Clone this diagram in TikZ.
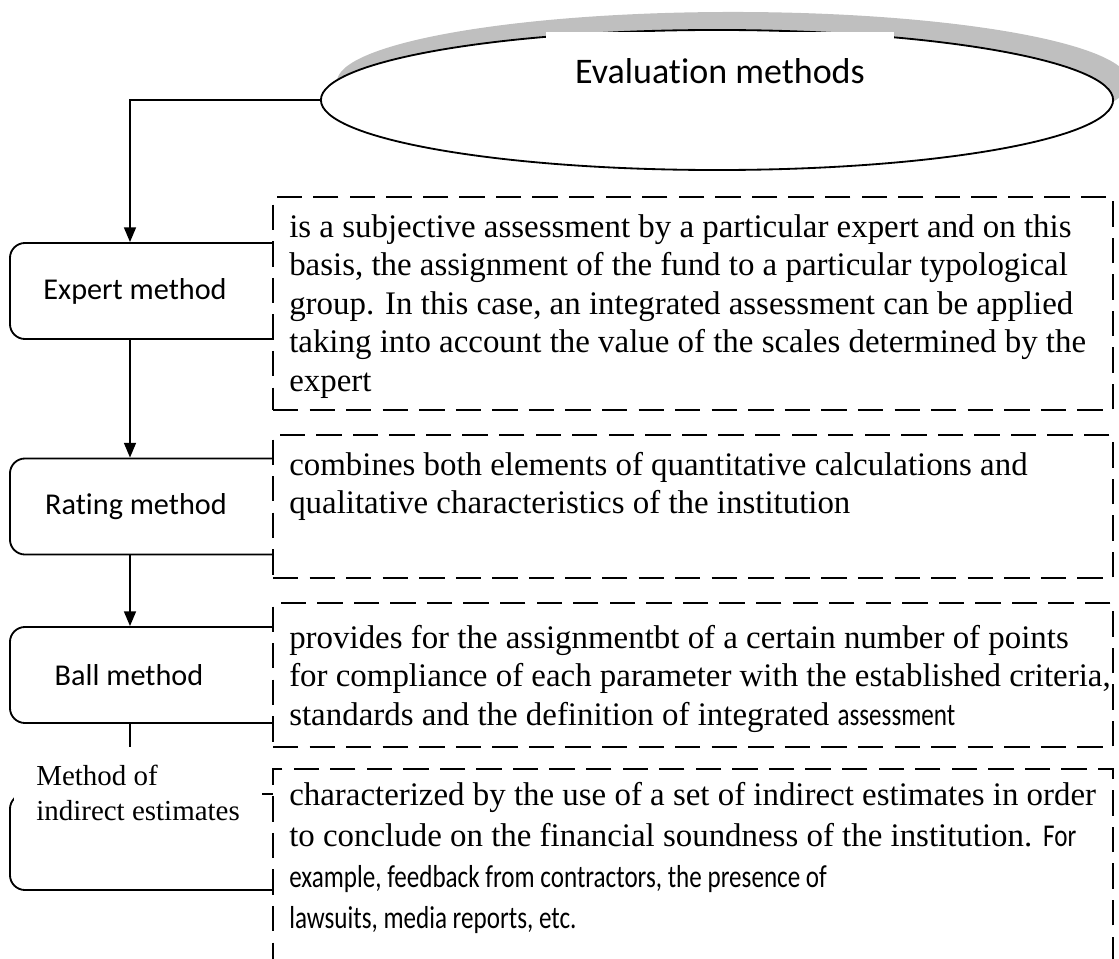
\documentclass[tikz,border=0pt]{standalone}
\usepackage{fontspec}
\setmainfont{Liberation Serif}
\newfontfamily\calibri[Ligatures=NoCommon]{Carlito}
\newfontfamily\calnarrow[Ligatures=NoCommon, FakeStretch=0.79]{Carlito}
\newcommand\calsmall{\calnarrow\fontsize{22.6pt}{27.4pt}\selectfont}
\usetikzlibrary{shapes.geometric, arrows.meta, positioning, shadows}

\begin{document}
\begin{tikzpicture}[x=0.025cm, y=-0.025cm,
    evalshape/.style={ellipse, draw, line width=1.3pt, fill=white, inner sep=0pt,
                      minimum width=19.8cm, minimum height=3.5cm,
                      drop shadow={shadow xshift=0.4cm, shadow yshift=0.45cm, opacity=1, fill=gray!50}},
    evallabel/.style={fill=white, inner sep=0pt, minimum width=8.675cm, minimum height=1.95cm,
                      font=\calibri\fontsize{25.6pt}{30pt}\selectfont},
    methodbox/.style={rectangle, rounded corners=0.375cm, draw, line width=1.3pt,
                      minimum width=7.25cm, minimum height=2.4cm},
    methodlabel/.style={inner sep=0pt, font=\calibri\fontsize{21.5pt}{26pt}\selectfont},
    descbox/.style={rectangle, draw, line width=1.3pt, dash pattern=on 18pt off 8pt,
                    fill=white, minimum width=21cm, anchor=north west, outer sep=0pt},
    desctext/.style={inner sep=0pt, align=left, font=\fontsize{23.4pt}{27.4pt}\selectfont},
    flowline/.style={line width=1.3pt},
    flowarrow/.style={flowline, -{Triangle[length=10.5pt, width=8.5pt]}}
]
\useasboundingbox (0,0) rectangle (1119,959);
\clip (0,0) rectangle (1119,959);

% Title
\node[evalshape] (eval) at (717,100) {};
\node[evallabel] (evaltext) at (720,71) {Evaluation methods};

% Left column - methods
\node[methodbox] (expertbox) at (155,291) {};
\node[methodbox] (ratingbox) at (155,506.5) {};
\node[methodbox] (ballbox) at (155,675) {};
\node[methodbox] (indirectbox) at (155,842) {};

% Right column - descriptions
\node[descbox, minimum height=5.325cm] (expertdesc) at (273,197) {};
\node[descbox, minimum height=3.575cm] (ratingdesc) at (273,435) {};
\node[descbox, minimum height=3.6cm] (balldesc) at (273,603) {};
\node[descbox, minimum height=5.75cm] (indirectdesc) at (273,769) {};

% Method names
\node[methodlabel] (expert) at ([xshift=-0.5cm]expertbox.center) {Expert method};
\node[methodlabel] (rating) at ([xshift=-0.475cm]ratingbox.center) {Rating method};
\node[methodlabel] (ball) at ([xshift=-0.65cm]ballbox.center) {Ball method};
\node[fill=white, align=left, anchor=north west, inner xsep=0.55cm, inner ysep=0.45cm,
      font=\fontsize{20.6pt}{24.9pt}\selectfont] (indirect) at (14,747) {Method of\\indirect estimates};

% Description texts
\node[desctext, below right=0.425cm and 0.4cm of expertdesc.north west] (experttext)
    {is a subjective assessment by a particular expert and on this\\
     basis, the assignment of the fund to a particular typological\\
     group. In this case, an integrated assessment can be applied\\
     taking into account the value of the scales determined by the\\
     expert};
\node[desctext, below right=0.425cm and 0.4cm of ratingdesc.north west] (ratingtext)
    {combines both elements of quantitative calculations and\\
     qualitative characteristics of the institution};
\node[desctext, below right=0.55cm and 0.4cm of balldesc.north west] (balltext)
    {provides for the assignmentbt of a certain number of points\\
     for compliance of each parameter with the established criteria,\\
     standards and the definition of integrated {\calsmall assessment}};
\node[desctext, font=\fontsize{23.4pt}{29.2pt}\selectfont,
      below right=0.325cm and 0.4cm of indirectdesc.north west] (indirecttext)
    {characterized by the use of a set of indirect estimates in order\\
     to conclude on the financial soundness of the institution. {\calsmall For}\\
     {\calsmall example, feedback from contractors, the presence of}\\
     {\calsmall lawsuits, media reports, etc.}};

% Connections
\coordinate (spine) at (130,100);
\draw[flowarrow] (eval.west) -| (spine |- expertbox.north);
\foreach \a/\b in {expertbox/ratingbox, ratingbox/ballbox}
    \draw[flowarrow] (spine |- \a.south) -- (spine |- \b.north);
\draw[flowline] (spine |- ballbox.south) -- (spine |- indirect.north);

\end{tikzpicture}
\end{document}
